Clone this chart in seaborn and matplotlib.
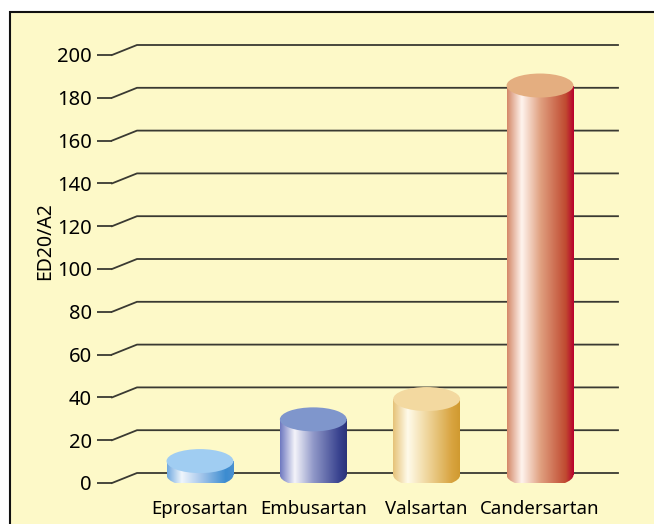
import matplotlib
matplotlib.use('Agg')
import matplotlib.pyplot as plt
import matplotlib.transforms as mtransforms
from matplotlib.patches import Ellipse, Rectangle
from matplotlib.colors import LinearSegmentedColormap
import seaborn as sns
import numpy as np

drugs = ['Eprosartan', 'Embusartan', 'Valsartan', 'Candersartan']
values = [6.5, 26, 35.5, 182]
yticks = [0, 20, 40, 60, 80, 100, 120, 140, 160, 180, 200]
ylabel = 'ED20/A2'

# side gradients (left -> right) and top colours of the cylinders
side_colors = [
    ['#6fa8e0', '#f0f6fc', '#a8c8ec', '#3c8cd0', '#4a90d0'],
    ['#6e78c0', '#f4f4fa', '#9098c8', '#3a4490', '#2c3478'],
    ['#e6c278', '#fffbea', '#f0d8a0', '#d8a440', '#d09a30'],
    ['#d48868', '#fff4ee', '#e0a080', '#c04a30', '#b8002c'],
]
side_stops = [0.0, 0.22, 0.5, 0.88, 1.0]
top_colors = ['#a0cdf2', '#7f96cc', '#f3d9a0', '#e4ae80']

bg = '#fdf9c8'
W, H = 654, 524
fig = plt.figure(figsize=(W / 100, H / 100), dpi=100)
fig.patch.set_facecolor('white')
fig.patches.append(Rectangle((10 / W, -0.1), 1.1, (H - 12) / H + 0.1,
                             transform=fig.transFigure, facecolor=bg,
                             edgecolor='#111111', linewidth=1.5, zorder=-10))

ax = fig.add_axes([112 / W, (H - 483) / H, (618 - 112) / W, 428 / H])
ax.patch.set_alpha(0)
for s in ax.spines.values():
    s.set_visible(False)

sns.barplot(x=drugs, y=values, width=0.59, ax=ax, color='white')
ax.set_xlim(-0.776, 3.688)
ax.set_ylim(0, 200)

# cylinders sit slightly behind the front tick plane
base_trans = mtransforms.offset_copy(ax.transData, fig=fig, x=0, y=8, units='dots')
ell_h = 24 * 200 / 428

for i, p in enumerate(ax.patches):
    p.set_transform(base_trans)
    p.set_facecolor('none')
    p.set_linewidth(0)
    x0 = p.get_x()
    w = p.get_width()
    v = p.get_height()
    cmap = LinearSegmentedColormap.from_list('c%d' % i, list(zip(side_stops, side_colors[i])))
    grad = cmap(np.linspace(0, 1, 256))[None, :, :]
    bottom = Ellipse((x0 + w / 2, 0), w, ell_h, transform=base_trans,
                     facecolor='none', linewidth=0)
    ax.add_patch(bottom)
    for clip in (p, bottom):
        im = ax.imshow(grad, extent=(x0, x0 + w, -ell_h, v), aspect='auto',
                       transform=base_trans, zorder=3)
        im.set_clip_path(clip)
    ax.add_patch(Ellipse((x0 + w / 2, v), w, ell_h, transform=base_trans,
                         facecolor=top_colors[i], linewidth=0, zorder=4))
ax.set_xlim(-0.776, 3.688)
ax.set_ylim(0, 200)

# perspective grid: front tick -> diagonal -> back plane line
ident = mtransforms.IdentityTransform()
fig.canvas.draw()
for t in yticks:
    fx, fy = ax.transData.transform((ax.get_xlim()[0], t))
    ax.add_line(plt.Line2D([fx, fx + 25, W - 36], [fy, fy + 10, fy + 10],
                           transform=ident, color='#3a3a32', linewidth=1.3,
                           zorder=1, clip_on=False))

font = 'Noto Sans'
ax.set_yticks(yticks)
ax.set_yticklabels([str(t) for t in yticks], fontsize=14.5, family=font)
ax.tick_params(axis='y', length=11, width=1.3, color='#3a3a32', pad=3.5)
ax.tick_params(axis='x', length=0, pad=12)
for lab in ax.get_xticklabels():
    lab.set_fontsize(13.4)
    lab.set_family(font)
ax.set_xlabel('')
ax.set_ylabel(ylabel, fontsize=14, family=font)
ax.yaxis.set_label_coords(-0.113, 0.565)

fig.savefig('out.png', dpi=100)
